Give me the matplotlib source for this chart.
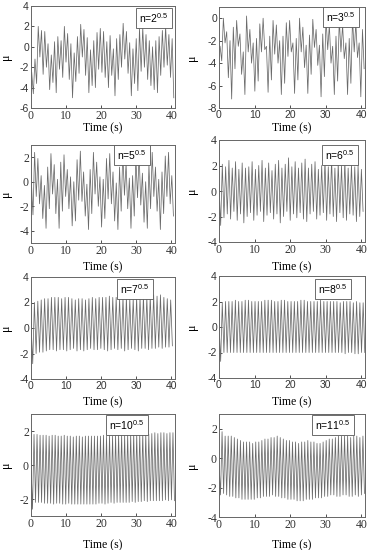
import matplotlib.pyplot as plt

# Panel labels (n values)
labels = ['2', '3', '5', '6', '7', '8', '10', '11']

# Estimated oscillation period (s) and time of first point for each panel
periods = [0.93, 0.93, 0.93, 0.93, 0.97, 0.92, 0.86, 0.86]
starts = [0.2, 0.3, 0.1, 0.0, 0.0, 0.0, 0.0, 0.0]

# Local maxima / minima (alternating: hi, lo, hi, lo ...)
hi_2 = [-2.5, -1.2, 2.0, 1.6, 1.5, 0.3, -0.8, 0.5, 1.0, 0.6, 2.0, 1.3, 0.3, -0.6, 1.0,
        2.2, 1.7, 0.9, -0.3, 0.6, 1.4, 1.8, 1.5, 0.5, 1.1, -0.2, 0.8, 1.2, 2.3, 1.5,
        0.4, -0.2, 0.8, 1.8, 1.9, 1.2, 0.6, 0.0, 0.6, 1.0, 1.6, 2.0, 1.2, 0.8]
lo_2 = [-4.6, -3.6, -1.0, -2.7, -2.0, -4.2, -3.5, -4.5, -2.2, -3.0, -1.5, -3.2, -5.0, -3.4, -2.6,
        -1.0, -2.8, -4.5, -3.8, -4.0, -2.2, -2.5, -3.0, -4.0, -2.8, -4.8, -3.2, -2.0, -1.2, -2.6,
        -4.8, -3.6, -4.3, -2.4, -2.0, -3.2, -3.8, -4.2, -4.5, -2.8, -2.0, -1.8, -3.0, -5.0]

hi_3 = [-2.5, 0.0, -1.2, -2.0, -0.8, -0.2, -1.4, -3.0, 0.2, -1.0, -2.2, -1.8, -0.5, 0.0, -2.5,
        -1.6, -0.2, -0.6, -2.0, -1.6, -0.4, -0.2, -2.2, -1.8, 0.0, -0.8, -2.4, -1.5, -0.1, -1.0,
        -2.4, -1.4, 0.0, -0.6, -2.5, -1.6, -0.1, -0.6, -2.2, -1.8, 0.0, -0.4, -2.2, -1.0]
lo_3 = [-3.8, -2.2, -5.3, -7.2, -4.5, -2.5, -5.0, -6.8, -3.0, -4.0, -6.5, -5.6, -3.0, -2.8, -6.6,
        -5.5, -3.2, -4.0, -6.8, -5.8, -3.4, -3.0, -6.7, -5.5, -3.0, -4.4, -6.7, -5.0, -2.6, -4.2,
        -7.0, -5.2, -2.8, -4.0, -6.8, -5.6, -3.0, -3.6, -6.8, -5.8, -3.0, -3.5, -7.0, -4.5]

hi_5 = [0.0, 2.4, 1.9, 0.5, -0.3, 1.2, 2.3, 1.4, 0.2, 1.6, 2.2, 1.0, 0.4, 0.0, 1.8,
        2.5, 0.8, -0.2, 1.0, 2.4, 1.6, 0.4, 0.2, 1.9, 2.3, 0.8, -0.1, 1.2, 2.4, 1.5,
        0.3, 0.5, 2.0, 2.3, 0.7, 0.0, 1.4, 2.4, 1.2, 0.2, 0.8, 2.1, 2.4, 0.5]
lo_5 = [-2.7, -1.2, -1.8, -3.0, -3.8, -2.2, -1.0, -2.6, -3.8, -2.4, -1.2, -2.2, -3.6, -3.2, -1.5,
        -1.6, -2.8, -3.9, -2.6, -1.0, -2.0, -3.7, -3.0, -1.4, -1.8, -3.2, -3.9, -2.4, -1.1, -2.2,
        -3.8, -2.8, -1.3, -1.9, -3.3, -3.8, -2.2, -1.2, -2.4, -3.9, -2.6, -1.2, -1.8, -2.8]

hi_6 = [0.5, 2.1, 1.9, 2.4, 1.8, 2.3, 1.7, 2.2, 1.8, 1.9, 2.3, 1.7, 2.0, 2.4, 1.8,
        2.2, 1.6, 2.1, 2.4, 1.8, 2.1, 2.6, 1.9, 2.3, 1.8, 2.2, 2.5, 1.8, 2.1, 2.3,
        1.7, 2.0, 2.4, 1.9, 2.5, 1.8, 2.2, 2.0, 2.4, 1.8, 2.1, 1.9, 2.0, 1.7]
lo_6 = [-2.7, -2.1, -1.8, -2.2, -1.6, -2.3, -1.8, -2.5, -2.0, -1.7, -2.3, -1.9, -1.6, -2.4, -1.9,
        -1.7, -2.2, -1.8, -2.5, -2.0, -1.6, -2.3, -1.8, -2.1, -1.7, -2.2, -2.4, -1.8, -1.6, -2.2,
        -1.9, -1.7, -2.3, -1.8, -2.0, -2.4, -1.7, -2.1, -2.3, -1.8, -1.9, -2.4, -2.0, -1.6]

hi_7 = [0.5, 2.0, 2.1, 2.2, 2.3, 2.3, 2.4, 2.4, 2.4, 2.3, 2.4, 2.4, 2.3, 2.2, 2.3,
        2.3, 2.2, 2.3, 2.4, 2.3, 2.4, 2.4, 2.4, 2.5, 2.4, 2.4, 2.3, 2.4, 2.4, 2.3,
        2.3, 2.4, 2.4, 2.5, 2.4, 2.5, 2.6, 2.5, 2.6, 2.4, 2.3, 2.2]
lo_7 = [-2.8, -2.0, -1.9, -1.9, -1.8, -1.7, -1.7, -1.8, -1.7, -1.7, -1.8, -1.7, -1.6, -1.8, -1.7,
        -1.8, -1.7, -1.6, -1.7, -1.7, -1.6, -1.7, -1.8, -1.7, -1.6, -1.7, -1.6, -1.8, -1.7, -1.6,
        -1.7, -1.8, -1.6, -1.6, -1.7, -1.6, -1.6, -1.5, -1.6, -1.5, -1.5, -1.4]

hi_8 = [0.3, 1.9, 2.0, 2.0, 2.0, 2.1, 2.0, 2.0, 2.1, 2.1, 2.0, 2.0, 2.0, 2.0, 2.1,
        2.1, 2.1, 2.0, 2.0, 2.1, 2.1, 2.0, 2.0, 2.0, 2.0, 2.1, 2.1, 2.0, 2.0, 2.0,
        2.0, 2.1, 2.0, 2.0, 2.0, 2.0, 2.0, 1.9, 2.0, 2.0, 2.0, 1.9, 2.0, 1.9, 1.9]
lo_8 = [-2.7, -2.0, -2.0, -2.0, -2.0, -2.0, -2.0, -2.0, -2.0, -2.0, -2.0, -2.0, -2.0, -2.0, -2.0,
        -2.0, -2.0, -2.0, -2.0, -2.0, -2.0, -2.0, -2.0, -2.0, -2.0, -2.0, -2.0, -2.0, -2.0, -2.0,
        -2.0, -2.0, -2.0, -2.0, -2.0, -2.0, -2.0, -2.0, -2.1, -2.0, -2.0, -2.1, -2.1, -2.0, -2.0]

hi_10 = [0.0, 1.8, 1.8, 1.75, 1.75, 1.75, 1.7, 1.75, 1.75, 1.7, 1.7, 1.75, 1.7, 1.7, 1.65,
         1.7, 1.7, 1.65, 1.7, 1.7, 1.7, 1.7, 1.7, 1.7, 1.75, 1.7, 1.75, 1.7, 1.75, 1.8,
         1.8, 1.75, 1.8, 1.8, 1.85, 1.8, 1.8, 1.85, 1.85, 1.8, 1.85, 1.9, 1.85, 1.9, 1.9,
         1.85, 1.9, 1.9]
lo_10 = [-2.6, -2.2, -2.2, -2.2, -2.25, -2.25, -2.25, -2.3, -2.25, -2.25, -2.3, -2.3, -2.25, -2.3, -2.3,
         -2.3, -2.3, -2.3, -2.3, -2.3, -2.3, -2.3, -2.25, -2.25, -2.3, -2.25, -2.2, -2.25, -2.2, -2.2,
         -2.2, -2.2, -2.2, -2.15, -2.2, -2.15, -2.15, -2.1, -2.15, -2.1, -2.1, -2.1, -2.1, -2.1, -2.05,
         -2.1, -2.05, -2.1]

hi_11 = [-0.2, 1.8, 1.5, 1.5, 1.5, 1.4, 1.3, 1.2, 1.1, 1.1, 1.1, 1.0, 1.1, 1.1, 1.2,
         1.3, 1.3, 1.4, 1.4, 1.5, 1.4, 1.3, 1.2, 1.2, 1.1, 1.1, 1.0, 1.1, 1.1, 1.2,
         1.1, 1.1, 1.0, 1.0, 1.1, 1.2, 1.3, 1.3, 1.4, 1.5, 1.5, 1.5, 1.5, 1.4, 1.5,
         1.5, 1.4, 1.5]
lo_11 = [-2.5, -2.4, -2.5, -2.6, -2.6, -2.7, -2.7, -2.8, -2.8, -2.8, -2.8, -2.8, -2.7, -2.7, -2.6,
         -2.6, -2.6, -2.5, -2.6, -2.6, -2.7, -2.7, -2.8, -2.8, -2.8, -2.9, -2.9, -2.9, -2.8, -2.8,
         -2.8, -2.7, -2.7, -2.7, -2.6, -2.6, -2.5, -2.5, -2.6, -2.6, -2.5, -2.5, -2.6, -2.6, -2.5,
         -2.6, -2.5, -2.4]

his = [hi_2, hi_3, hi_5, hi_6, hi_7, hi_8, hi_10, hi_11]
los = [lo_2, lo_3, lo_5, lo_6, lo_7, lo_8, lo_10, lo_11]
ylims = [(-6, 4), (-8, 1), (-5, 3), (-4, 4), (-4, 4), (-4, 4), (-3, 3), (-4, 3)]
yticks = [range(-6, 5, 2), range(-8, 1, 2), range(-4, 3, 2), range(-4, 5, 2),
          range(-4, 5, 2), range(-4, 5, 2), range(-2, 3, 2), range(-4, 3, 2)]

SERIF = 'Liberation Serif'
SANS = 'Liberation Sans'
# (x tick font, y tick font) per panel
tick_fonts = [(SERIF, SANS), (SANS, SANS), (SERIF, SERIF), (SERIF, SERIF),
              (SANS, SANS), (SANS, SANS), (SERIF, SERIF), (SERIF, SERIF)]

plt.rcParams['mathtext.fontset'] = 'custom'
plt.rcParams['mathtext.rm'] = SANS
plt.rcParams['mathtext.it'] = SANS

fig = plt.figure(figsize=(3.71, 5.5), dpi=100)

W, H = 371.0, 550.0
# axes boxes in pixels: left, top, right, bottom
boxes = [(31, 6, 175, 108), (219, 7, 365, 108),
         (31, 145, 175, 243), (219, 140, 365, 242),
         (31, 277, 175, 379), (219, 276, 365, 378),
         (31, 414, 175, 516), (219, 414, 365, 517)]
# legend box centres in pixels
tags = [(154, 18), (341, 17), (132, 155), (340, 155),
        (135, 289), (333, 289), (127, 425), (333, 425)]
xlab_y = [128, 128, 267, 267, 402, 402, 545, 545]

for i in range(8):
    l, t, r, b = boxes[i]
    ax = fig.add_axes([l / W, 1 - b / H, (r - l) / W, (b - t) / H])
    hi, lo = his[i], los[i]
    n = min(len(hi), len(lo))
    xs, ys = [], []
    for k in range(n):
        xs += [starts[i] + k * periods[i], starts[i] + (k + 0.5) * periods[i]]
        ys += [hi[k], lo[k]]
    ax.plot(xs, ys, color='#6a6a6a', lw=0.55)

    ax.set_xlim(0, 41)
    ax.set_ylim(*ylims[i])
    ax.set_xticks([0, 10, 20, 30, 40])
    ax.set_yticks(list(yticks[i]))
    fx, fy = tick_fonts[i]
    ax.set_xticklabels(['0', '10', '20', '30', '40'], family=fx,
                       fontsize=8.5 if fx == SERIF else 7.5)
    ax.set_yticklabels([str(v) for v in yticks[i]], family=fy,
                       fontsize=8.5 if fy == SERIF else 7.5)
    ax.tick_params(direction='in', length=2.5, width=0.6, pad=1.5, colors='#333333')
    for s in ax.spines.values():
        s.set_color('#666666')
        s.set_linewidth(0.7)

    ax.set_xlabel('Time (s)', family=SERIF, fontsize=8.5)
    ax.xaxis.set_label_coords(0.5, -(xlab_y[i] - b) / (b - t), transform=ax.transAxes)
    ax.xaxis.label.set_verticalalignment('center')
    ax.set_ylabel('μ', family=SERIF, fontsize=8.5)
    ax.yaxis.set_label_coords(-(l - (12 if l < 100 else 198)) / (r - l), 0.5)

    cx, cy = tags[i]
    ax.text((cx - l) / (r - l), (b - cy) / (b - t), 'n=' + labels[i] + r'$^{0.5}$',
            transform=ax.transAxes, ha='center', va='center', family=SANS, fontsize=7.5,
            bbox=dict(boxstyle='square,pad=0.3', fc='white', ec='#555555', lw=0.6))

fig.savefig('out.png', dpi=100)
